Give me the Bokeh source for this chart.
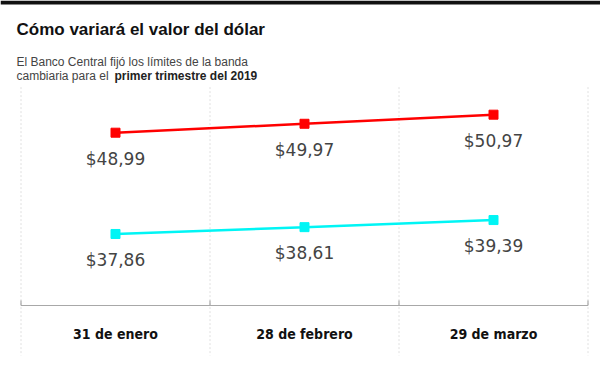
from bokeh.plotting import figure
from bokeh.models import Range1d, Label, BoxAnnotation
from bokeh.core.properties import value
from bokeh.embed import file_html
from bokeh.resources import INLINE

# ---- data ----
fechas = ["31 de enero", "28 de febrero", "29 de marzo"]
techo = [48.99, 49.97, 50.97]   # upper band limit
piso = [37.86, 38.61, 39.39]    # lower band limit
y_axis_min, y_axis_max = 30, 54

titulo = "Cómo variará el valor del dólar"
sub1 = "El Banco Central fijó los límites de la banda"
sub2a = "cambiaria para el"
sub2b = "primer trimestre del 2019"


def fmt(v):
    return "$" + f"{v:.2f}".replace(".", ",")


W, H = 600, 365
px_per_unit = 9.1
band_px = 189
left_px = 20.5
# y value at pixel 0 (top) and pixel H (bottom), axis value 30 sits at pixel 305
top_val = y_axis_min + 305 / px_per_unit
bot_val = y_axis_min - (H - 305) / px_per_unit

p = figure(width=W, height=H, output_backend="svg", toolbar_location=None,
           title=None, x_axis_location=None, y_axis_location=None,
           x_range=Range1d(-left_px / band_px, (W - left_px) / band_px),
           y_range=Range1d(bot_val, top_val),
           min_border=0, outline_line_color=None)
p.background_fill_color = "white"
p.border_fill_color = "white"
p.grid.visible = False

n = len(fechas)
xs = [i + 0.5 for i in range(n)]
bounds = list(range(n + 1))

# top black bar
p.add_layout(BoxAnnotation(bottom=top_val - 4 / px_per_unit, fill_color="#111111",
                           fill_alpha=1, line_color=None))

# dotted vertical band separators
grid_bottom = y_axis_min - 50 / px_per_unit
p.segment(x0=bounds, x1=bounds, y0=[y_axis_max] * len(bounds), y1=[grid_bottom] * len(bounds),
          line_color="#e0e0e0", line_width=1, line_dash="2 2")

# axis line and ticks
p.segment(x0=[bounds[0]], x1=[bounds[-1]], y0=[y_axis_min], y1=[y_axis_min],
          line_color="#a8a8a8", line_width=1.2)
p.segment(x0=bounds, x1=bounds, y0=[y_axis_min] * len(bounds),
          y1=[y_axis_min + 5 / px_per_unit] * len(bounds),
          line_color="#a8a8a8", line_width=1.2)

# lines
p.line(xs, techo, line_color="#ff0000", line_width=2.5)
p.scatter(xs, techo, marker="square", size=9, fill_color="#ff0000", line_color="#ff0000")
p.line(xs, piso, line_color="#00f5f5", line_width=2.5)
p.scatter(xs, piso, marker="square", size=9, fill_color="#00f5f5", line_color="#00f5f5")

lab_kw = dict(text_align="center", text_baseline="alphabetic", y_offset=26,
              text_font=value("DejaVu Sans"), text_font_size="17px", text_color="#444444")
p.text(x=xs, y=techo, text=[fmt(v) for v in techo], **lab_kw)
p.text(x=xs, y=piso, text=[fmt(v) for v in piso], **lab_kw)

# category labels
p.text(x=xs, y=[y_axis_min] * n, text=fechas, text_align="center", text_baseline="alphabetic",
       y_offset=28, text_font=value("DejaVu Sans Condensed"), text_font_style="bold",
       text_font_size="14px", text_color="#111111")

# title and subtitle
p.add_layout(Label(x=16, y=H - 29, x_units="screen", y_units="screen", text=titulo,
                   text_font="Liberation Sans", text_font_style="bold", text_font_size="17px",
                   text_color="#111111", text_baseline="alphabetic"))
p.add_layout(Label(x=16, y=H - 61, x_units="screen", y_units="screen", text=sub1,
                   text_font="Liberation Sans", text_font_size="12px",
                   text_color="#444444", text_baseline="alphabetic"))
p.add_layout(Label(x=16, y=H - 75, x_units="screen", y_units="screen", text=sub2a,
                   text_font="Liberation Sans", text_font_size="12px",
                   text_color="#444444", text_baseline="alphabetic"))
p.add_layout(Label(x=114, y=H - 75, x_units="screen", y_units="screen", text=sub2b,
                   text_font="Liberation Sans", text_font_style="bold", text_font_size="12px",
                   text_color="#222222", text_baseline="alphabetic"))

open("out.html", "w").write(file_html(p, INLINE))
